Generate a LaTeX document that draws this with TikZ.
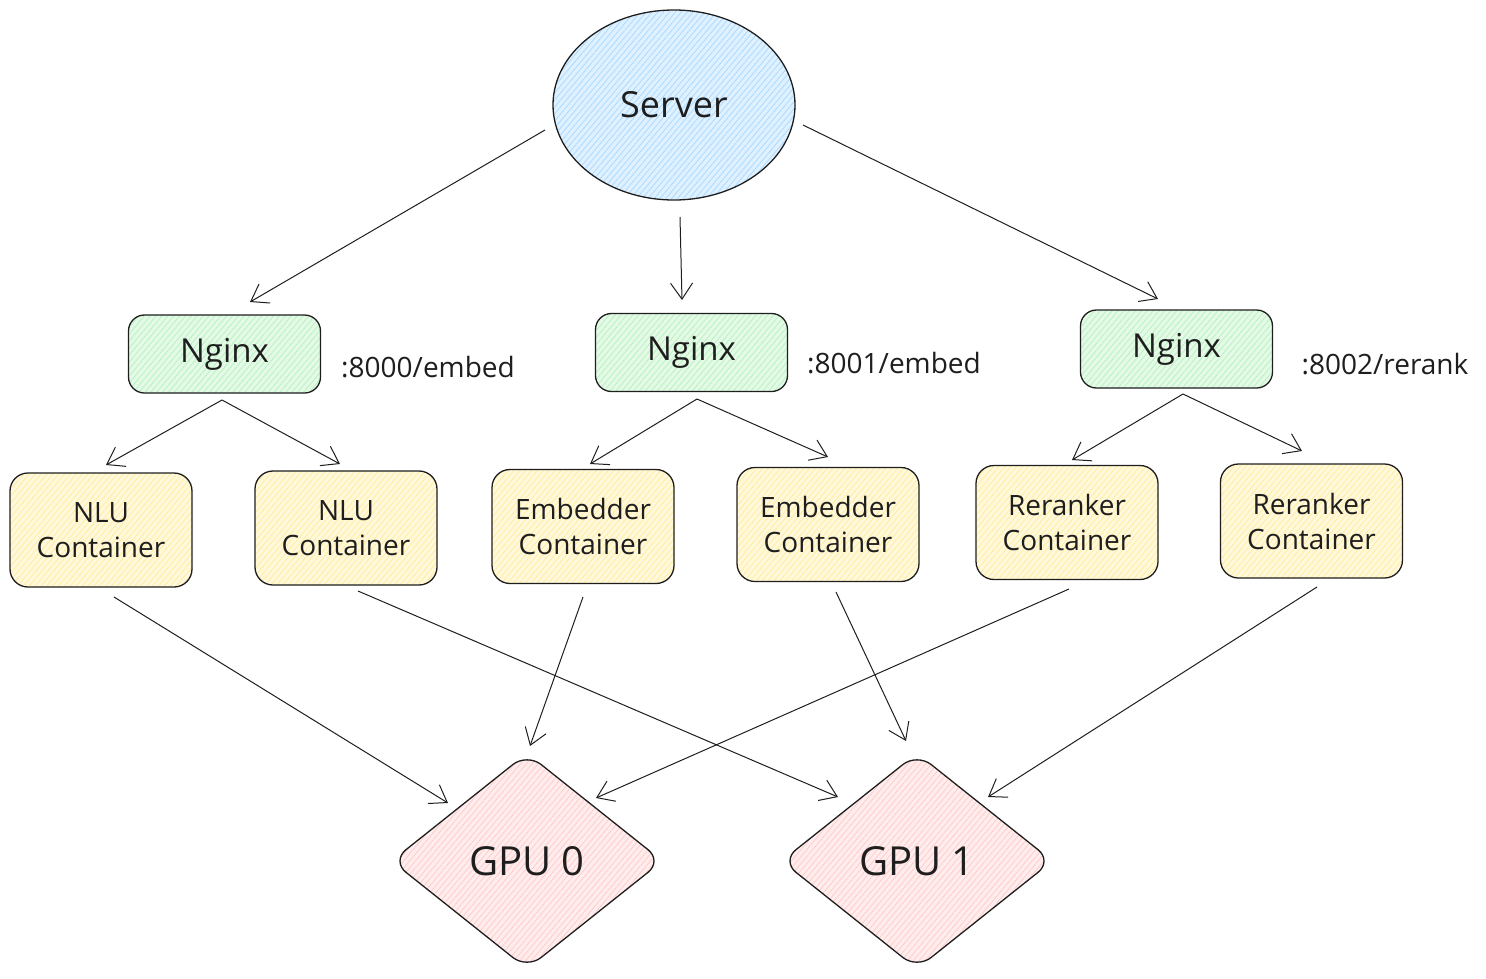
\documentclass[tikz,border=0pt]{standalone}
\usepackage{fontspec}
\setmainfont{Open Sans}
\usetikzlibrary{shapes.geometric,arrows.meta,patterns.meta}
\definecolor{hblue}{HTML}{A5D8FF}
\definecolor{hgreen}{HTML}{B2F2BB}
\definecolor{hyellow}{HTML}{FFEC99}
\definecolor{hred}{HTML}{FFC9C9}
\definecolor{ink}{HTML}{1E1E1E}
\tikzset{
  sk/.style={draw=ink, line width=1.3pt,
    preaction={fill=#1!35},
    preaction={pattern={Lines[angle=50,distance=4.5pt,line width=0.7pt]}, pattern color=#1},
    text=ink},
  srvbox/.style={sk=hblue, ellipse, minimum width=242pt, minimum height=190pt, inner sep=0pt,
    font=\fontsize{36}{42}\selectfont},
  nginxbox/.style={sk=hgreen, rectangle, rounded corners=16pt, minimum width=192pt, minimum height=78pt,
    font=\fontsize{33}{38}\selectfont},
  contbox/.style={sk=hyellow, rectangle, rounded corners=18pt, minimum width=182pt, minimum height=114pt,
    align=center, font=\fontsize{28}{35}\selectfont},
  gpubox/.style={sk=hred, diamond, rounded corners=18pt, minimum width=271pt, minimum height=216pt, inner sep=0pt,
    font=\fontsize{40}{44}\selectfont},
  portlabel/.style={text=ink, font=\fontsize{28}{32}\selectfont},
  arr/.style={draw=ink, line width=1pt, -{Straight Barb[length=16pt,width=22pt,line width=1pt]}},
}
\begin{document}
\begin{tikzpicture}[x=1pt,y=-1pt]
\useasboundingbox (0,0) rectangle (1486,978);
% nodes
\node[srvbox] (srv) at (674,105) {Server};
\node[nginxbox] (n1) at (224.5,354) {Nginx};
\node[nginxbox] (n2) at (691.5,352.5) {Nginx};
\node[nginxbox] (n3) at (1176.5,349) {Nginx};
\node[portlabel] (l1) at (428,367) {:8000/embed};
\node[portlabel] (l2) at (894,363) {:8001/embed};
\node[portlabel] (l3) at (1385,364) {:8002/rerank};
\node[contbox] (c1) at (101,530) {NLU\\Container};
\node[contbox] (c2) at (346,528) {NLU\\Container};
\node[contbox] (c3) at (583,526.5) {Embedder\\Container};
\node[contbox] (c4) at (828,524.5) {Embedder\\Container};
\node[contbox] (c5) at (1067,522.5) {Reranker\\Container};
\node[contbox] (c6) at (1311.5,521) {Reranker\\Container};
\node[gpubox] (g0) at (527,861) {GPU 0};
\node[gpubox] (g1) at (917,861) {GPU 1};
% connectors
\draw[arr] ([shift={(-129,25)}]srv.center) -- ([shift={(25.5,-52)}]n1.center);
\draw[arr] ([shift={(6,112)}]srv.center) -- ([shift={(-9.5,-52.5)}]n2.center);
\draw[arr] ([shift={(129,20)}]srv.center) -- ([shift={(-18.5,-50)}]n3.center);
\draw[arr] ([shift={(-2.5,46)}]n1.center) -- ([shift={(5,-65)}]c1.center);
\draw[arr] ([shift={(-2.5,46)}]n1.center) -- ([shift={(-6,-64)}]c2.center);
\draw[arr] ([shift={(5.5,46.5)}]n2.center) -- ([shift={(7,-62.5)}]c3.center);
\draw[arr] ([shift={(5.5,46.5)}]n2.center) -- ([shift={(0,-67.5)}]c4.center);
\draw[arr] ([shift={(6.5,45)}]n3.center) -- ([shift={(5,-62.5)}]c5.center);
\draw[arr] ([shift={(6.5,45)}]n3.center) -- ([shift={(-9.5,-70)}]c6.center);
\draw[arr] ([shift={(13,67)}]c1.center) -- ([shift={(-79,-58)}]g0.center);
\draw[arr] ([shift={(12,63)}]c2.center) -- ([shift={(-79,-64)}]g1.center);
\draw[arr] ([shift={(0,70.5)}]c3.center) -- ([shift={(3,-115)}]g0.center);
\draw[arr] ([shift={(8,67.5)}]c4.center) -- ([shift={(-11,-120)}]g1.center);
\draw[arr] ([shift={(2,66.5)}]c5.center) -- ([shift={(69,-63)}]g0.center);
\draw[arr] ([shift={(5.5,66)}]c6.center) -- ([shift={(71,-64)}]g1.center);
\end{tikzpicture}
\end{document}
